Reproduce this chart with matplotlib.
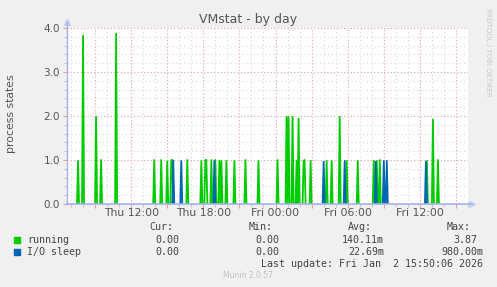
import matplotlib.pyplot as plt
from matplotlib.patches import Rectangle
from matplotlib.ticker import FixedLocator, MultipleLocator
import numpy as np

W, H = 497, 287

title = "VMstat - by day"
ylabel = "process states"

# 5 minute samples, hours counted from Thu 00:00
t_start = 6 + 40 / 60
t_end = 40.0

running_times = ["Thu 07:35", "Thu 08:00", "Thu 09:05", "Thu 09:30", "Thu 10:45",
                 "Thu 13:55", "Thu 14:30", "Thu 15:00", "Thu 15:20", "Thu 15:25",
                 "Thu 16:40", "Thu 17:50", "Thu 18:10", "Thu 18:15", "Thu 18:40",
                 "Thu 19:00", "Thu 19:20", "Thu 19:30", "Thu 19:55", "Thu 20:35",
                 "Thu 21:30", "Thu 22:35",
                 "Fri 00:10", "Fri 00:55", "Fri 01:05", "Fri 01:25", "Fri 01:45",
                 "Fri 01:55", "Fri 02:20", "Fri 02:25", "Fri 02:55", "Fri 04:15",
                 "Fri 04:40", "Fri 05:20", "Fri 05:55", "Fri 06:50", "Fri 08:10",
                 "Fri 08:25", "Fri 08:40", "Fri 12:35", "Fri 13:05", "Fri 13:30"]
running_vals = [0.98, 3.83, 1.98, 1.0, 3.87,
                1.0, 1.0, 0.97, 1.0, 1.0,
                1.0, 0.98, 1.0, 1.0, 1.0,
                1.0, 0.98, 0.98, 0.98, 0.98,
                1.0, 0.98,
                1.0, 1.98, 1.98, 1.98, 0.98,
                1.94, 0.98, 1.0, 0.98, 0.98,
                0.98, 1.98, 0.98, 0.98, 0.98,
                0.98, 1.0, 0.98, 1.92, 1.0]

iosleep_times = ["Thu 15:30", "Thu 16:10", "Thu 18:55", "Fri 04:00", "Fri 05:45",
                 "Fri 08:20", "Fri 09:00", "Fri 09:15", "Fri 12:30"]
iosleep_vals = [0.98, 0.98, 0.98, 0.96, 0.98, 0.96, 0.98, 0.98, 0.96]

xtick_pos = ["Thu 12:00", "Thu 18:00", "Fri 00:00", "Fri 06:00", "Fri 12:00"]

legend_names = ["running", "I/O sleep"]
legend_colors = ["#00cc00", "#0066b3"]
cur = ["0.00", "0.00"]
mins = ["0.00", "0.00"]
avgs = ["140.11m", "22.69m"]
maxs = ["3.87", "980.00m"]
last_update = "Last update: Fri Jan  2 15:50:06 2026"
version = "Munin 2.0.57"


def to_hours(s):
    day, hm = s.split()
    h, m = hm.split(":")
    return (0 if day == "Thu" else 24) + int(h) + int(m) / 60


def series(times, vals):
    n = int(round((t_end - t_start) * 12)) + 1
    y = np.zeros(n)
    for s, v in zip(times, vals):
        y[int(round((to_hours(s) - t_start) * 12))] = v
    # hide the flat zero stretches so the baseline stays the axis colour
    nz = y > 0
    keep = nz | np.roll(nz, 1) | np.roll(nz, -1)
    return np.where(keep, y, np.nan)


def px(x, y):
    return x / W, 1 - y / H


t = t_start + np.arange(int(round((t_end - t_start) * 12)) + 1) / 12
running = series(running_times, running_vals)
iosleep = series(iosleep_times, iosleep_vals)

fig = plt.figure(figsize=(W / 100, H / 100), dpi=100, facecolor="#f0f0f0")
ax = fig.add_axes([67 / W, 83 / H, 401 / W, 176 / H])
ax.set_facecolor("white")

ax.plot(t, running, color=legend_colors[0], lw=1.3, zorder=3)
ax.plot(t, iosleep, color=legend_colors[1], lw=1.3, zorder=4)

ax.set_xlim(t_start, t_end)
ax.set_ylim(0, 4.0)

# grid
ax.xaxis.set_minor_locator(MultipleLocator(1))
ax.xaxis.set_major_locator(MultipleLocator(3))
ax.yaxis.set_minor_locator(MultipleLocator(0.2))
ax.yaxis.set_major_locator(FixedLocator([0, 1, 2, 3, 4]))
ax.grid(which="minor", color="#d8d8d8", ls=(0, (1, 2.5)), lw=0.8)
ax.grid(which="major", color="#e8a0a0", ls=(0, (1, 2)), lw=0.8)
ax.set_axisbelow(True)
ax.xaxis.set_major_formatter(plt.NullFormatter())
ax.set_yticklabels(["0.0", "1.0", "2.0", "3.0", "4.0"])
ax.tick_params(which="major", length=3, width=0.8, color="#e8a0a0",
               labelsize=7.5, labelcolor="#555555", pad=2)
ax.tick_params(which="minor", length=2, width=0.8, color="#c8c8c8")

for s in xtick_pos:
    ax.text(to_hours(s), -9 / 176, s, transform=ax.get_xaxis_transform(),
            ha="center", va="center", fontsize=7.8, color="#555555")

for sp in ["top", "right", "left", "bottom"]:
    ax.spines[sp].set_visible(False)
axis_col = "#a8b0e8"
ax.plot([0, 0], [0, 1.035], transform=ax.transAxes, color=axis_col, lw=1.0, clip_on=False, zorder=5)
ax.plot([0, 1.01], [0, 0], transform=ax.transAxes, color=axis_col, lw=1.2, clip_on=False, zorder=5)
ax.plot(0, 1.035, marker="^", ms=5, color="#c8cef5", transform=ax.transAxes, clip_on=False)
ax.plot(1.01, 0, marker=">", ms=5, color="#c8cef5", transform=ax.transAxes, clip_on=False)

fig.text(*px(248.5, 19), title, ha="center", va="center", fontsize=9, color="#555555")
fig.text(*px(11, 114), ylabel, ha="center", va="center", rotation=90,
         fontsize=7.8, color="#555555")
fig.text(*px(488, 52), "RRDTOOL / TOBI OETIKER", ha="center", va="center",
         rotation=270, fontsize=5, color="#c8c8c8")

mono = dict(family="DejaVu Sans Mono", fontsize=7.2, color="#444444", va="center")
for x, h in zip([149, 249, 348, 447], ["Cur:", "Min:", "Avg:", "Max:"]):
    fig.text(*px(x, 227), h, ha="left", **mono)
for i, name in enumerate(legend_names):
    y = 240 + 12 * i
    fig.patches.append(Rectangle(px(14, y + 3), 6 / W, 6 / H, color=legend_colors[i],
                                 transform=fig.transFigure, figure=fig))
    fig.text(*px(27, y), name, ha="left", **mono)
    fig.text(*px(179, y), cur[i], ha="right", **mono)
    fig.text(*px(279, y), mins[i], ha="right", **mono)
    fig.text(*px(384, y), avgs[i], ha="right", **mono)
    fig.text(*px(477 if i == 0 else 483, y), maxs[i], ha="right", **mono)
fig.text(*px(483, 264), last_update, ha="right", **mono)
fig.text(*px(248, 276), version, ha="center", va="center", fontsize=5.5, color="#c0c0c0")

fig.savefig("out.png", dpi=100, facecolor=fig.get_facecolor())
